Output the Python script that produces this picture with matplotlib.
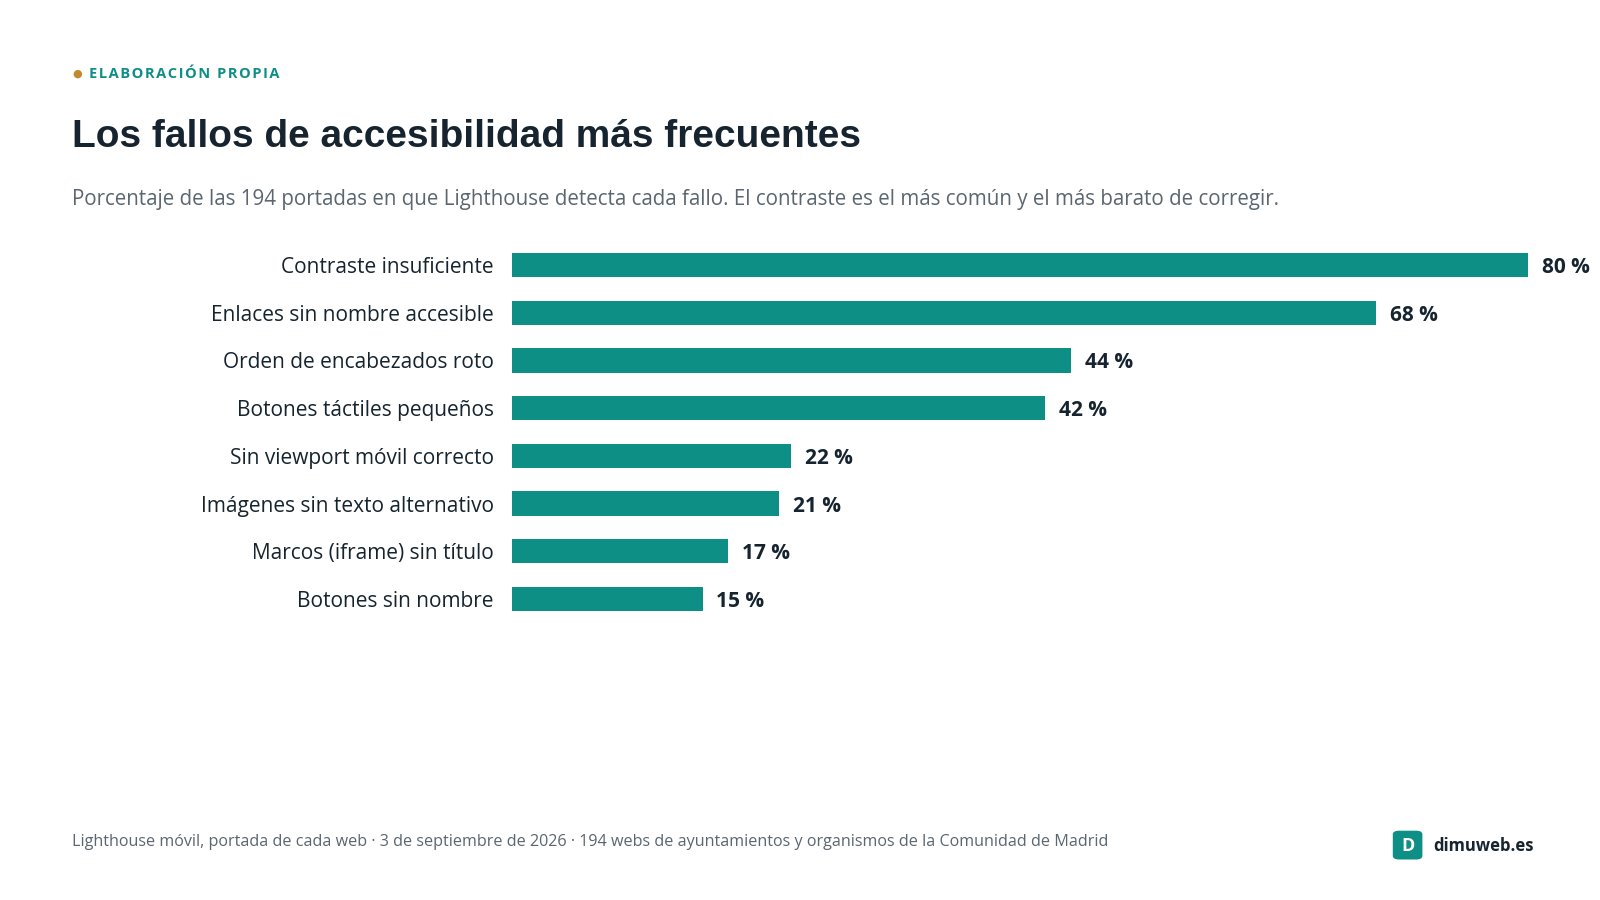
import matplotlib
matplotlib.use("Agg")
import matplotlib.pyplot as plt
from matplotlib.patches import FancyBboxPatch

categories = ["Contraste insuficiente", "Enlaces sin nombre accesible", "Orden de encabezados roto",
              "Botones táctiles pequeños", "Sin viewport móvil correcto", "Imágenes sin texto alternativo",
              "Marcos (iframe) sin título", "Botones sin nombre"]
values = [80, 68, 44, 42, 22, 21, 17, 15]

TEAL = "#0e8f86"
DARK = "#16242f"
GREY = "#5b6670"
F = ["Open Sans", "DejaVu Sans"]

fig = plt.figure(figsize=(16, 9), dpi=100)
fig.patch.set_facecolor("white")
ax = fig.add_axes([0.320, 0.308, 0.635, 0.424])
y = list(range(len(categories)))
ax.barh(y, values, height=0.51, color=TEAL)
ax.set_xlim(0, 80)
ax.set_ylim(len(categories) - 0.5, -0.5)
for s in ax.spines.values():
    s.set_visible(False)
ax.set_xticks([])
ax.set_yticks(y)
ax.set_yticklabels(categories, fontsize=15, color=DARK, family=F)
ax.tick_params(axis="y", length=0, pad=13)
for yi, v in zip(y, values):
    ax.text(v + 1.1, yi, f"{v} %", va="center_baseline", ha="left", fontsize=15, fontweight="bold",
            color=DARK, family=F)

fig.text(0.0455, 0.918, "●", fontsize=8, color="#c08a30", va="center", ha="left")
fig.text(0.0555, 0.918, "\u200a".join("ELABORACIÓN PROPIA"), fontsize=10.5,
         fontweight="bold", color=TEAL, va="center", ha="left", family=F)
fig.text(0.045, 0.848, "Los fallos de accesibilidad más frecuentes", fontsize=28, fontweight="bold",
         color=DARK, va="center", ha="left", family="Liberation Sans")
fig.text(0.045, 0.778, "Porcentaje de las 194 portadas en que Lighthouse detecta cada fallo. El contraste es el más común y el más barato de corregir.",
         fontsize=14.8, color=GREY, va="center", ha="left", family=F)
fig.text(0.045, 0.064, "Lighthouse móvil, portada de cada web · 3 de septiembre de 2026 · 194 webs de ayuntamientos y organismos de la Comunidad de Madrid",
         fontsize=11.6, color=GREY, va="center", ha="left", family=F)
fig.patches.append(FancyBboxPatch((0.8705, 0.045), 0.0185, 0.032, boxstyle="round,pad=0,rounding_size=0.004",
                                  transform=fig.transFigure, facecolor=TEAL, edgecolor="none"))
fig.text(0.8797, 0.0605, "D", fontsize=13, fontweight="bold", color="white", va="center", ha="center", family=F)
fig.text(0.8955, 0.0605, "dimuweb.es", fontsize=12, fontweight="bold", color=DARK, va="center", ha="left", family=F)

fig.savefig("out.png", dpi=100, facecolor="white")
